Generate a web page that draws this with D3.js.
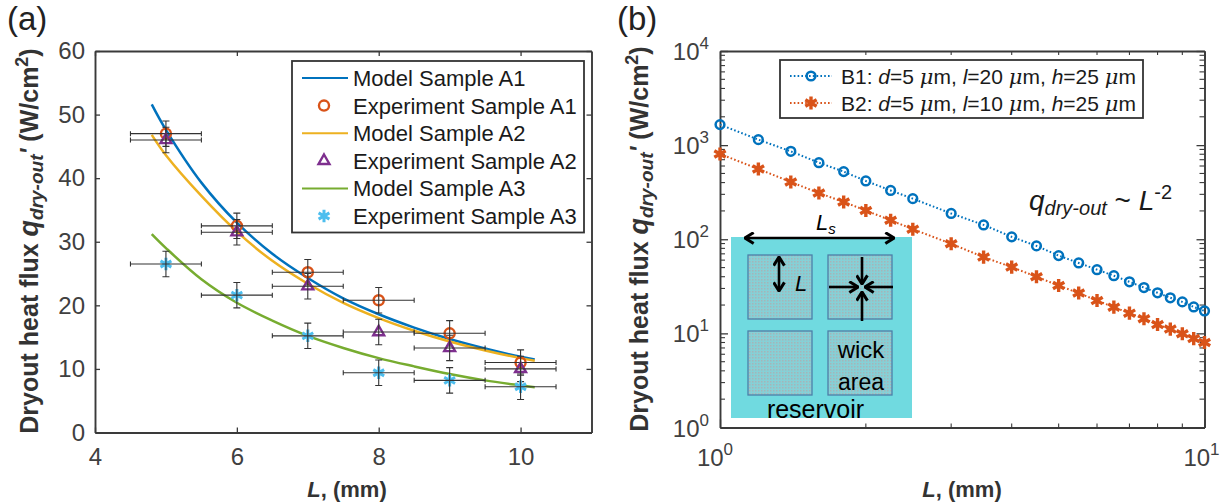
<!DOCTYPE html>
<html>
<head>
<meta charset="utf-8">
<script src="https://cdn.jsdelivr.net/npm/d3@7"></script>
<style>
body { margin: 0; background: #fff; }
svg { display: block; }
text { font-family: "Liberation Sans", Arial, sans-serif; }
.tick text { fill: #404040; }
</style>
</head>
<body>
<svg id="chart" width="1226" height="504"></svg>
<script>
// panel (a)
var modelL = [4.8, 5, 5.5, 6, 6.5, 7, 7.5, 8, 8.5, 9, 9.5, 10, 10.2]
var modelA1 = [51.6, 47.6, 39.3, 33, 28.1, 24.3, 21.1, 18.6, 16.5, 14.7, 13.2, 11.9, 11.5]
var modelA2 = [46.8, 43.6, 37.2, 31.6, 27, 23.4, 20.4, 18, 16, 14.3, 12.9, 11.7, 11.3]
var modelA3 = [31.2, 29, 24.1, 20.4, 17.6, 15.2, 13.3, 11.7, 10.4, 9.2, 8.2, 7.4, 7.1]

var expL = [5, 6, 7, 8, 9, 10]
var expA1 = [47, 32.5, 25.2, 20.8, 15.6, 11]
var expA2 = [46, 31.5, 23, 15.8, 13.3, 10]
var expA3 = [26.5, 21.6, 15.2, 9.4, 8.2, 7.2]
var errL = 0.5
var errQ = 2

var xTicksA = [4, 6, 8, 10]
var yTicksA = [0, 10, 20, 30, 40, 50, 60]

// panel (b)
var logL = [1, 1.2, 1.4, 1.6, 1.8, 2, 2.25, 2.5, 3, 3.5, 4, 4.5, 5, 5.5, 6, 6.5, 7, 7.5, 8, 8.5, 9, 9.5, 10]
var seriesB1 = [1652, 1144, 859, 651, 523, 416, 330, 270, 188, 142, 106, 85, 67, 56, 47.5, 41, 35.3, 30.7, 27, 23.9, 21.6, 19.1, 17.3]
var seriesB2 = [806, 558, 406, 310, 249, 202, 159, 128, 89.6, 64.6, 50.6, 40, 32.2, 26.8, 22.3, 19, 16.4, 14.3, 12.4, 11.1, 9.9, 8.8, 8]

var yDecades = [1, 10, 100, 1000, 10000]
var xMinor = [2, 3, 4, 5, 6, 7, 8, 9]

var blue = "#0072bd", orange = "#d95319", yellow = "#edb120", purple = "#7e2f8e", green = "#77ac30", sky = "#4dbeee"
var axisColor = "#3a3a3a"

var svg = d3.select("#chart")

var dimsA = { left: 95, right: 591.5, top: 51, bottom: 432.5 }
var dimsB = { left: 720, right: 1204.5, top: 51, bottom: 427.5 }

var xA = d3.scaleLinear().domain([4, 11]).range([dimsA.left, dimsA.right])
var yA = d3.scaleLinear().domain([0, 60]).range([dimsA.bottom, dimsA.top])
var xB = d3.scaleLog().domain([1, 10]).range([dimsB.left, dimsB.right])
var yB = d3.scaleLog().domain([1, 10000]).range([dimsB.bottom, dimsB.top])

// adds text made of pieces: {t, i (italic), b (bold), dy, size}
function rich(sel, pieces) {
    pieces.forEach(function (p) {
        var s = sel.append("tspan").text(p.t)
        if (p.i) s.attr("font-style", "italic")
        if (p.b) s.attr("font-weight", "bold")
        if (p.dy) s.attr("dy", p.dy)
        if (p.size) s.attr("font-size", p.size)
        if (p.serif) s.style("font-family", "'DejaVu Serif', serif")
    })
    return sel
}

function styleAxis(g) {
    g.select(".domain").attr("stroke", axisColor).attr("stroke-width", 1.9)
    g.selectAll(".tick line").attr("stroke", axisColor).attr("stroke-width", 1.3)
}

function frame(d, xScale, yScale, xMajor, yMajor, len, fmtX, fmtY) {
    var bottom = svg.append("g").attr("transform", "translate(0," + d.bottom + ")")
        .call(d3.axisBottom(xScale).tickValues(xMajor).tickSizeInner(-len).tickSizeOuter(0).tickPadding(15).tickFormat(fmtX))
    var top = svg.append("g").attr("transform", "translate(0," + d.top + ")")
        .call(d3.axisTop(xScale).tickValues(xMajor).tickSizeInner(-len).tickSizeOuter(0).tickFormat(""))
    var left = svg.append("g").attr("transform", "translate(" + d.left + ",0)")
        .call(d3.axisLeft(yScale).tickValues(yMajor).tickSizeInner(-len).tickSizeOuter(0).tickPadding(10).tickFormat(fmtY))
    var right = svg.append("g").attr("transform", "translate(" + d.right + ",0)")
        .call(d3.axisRight(yScale).tickValues(yMajor).tickSizeInner(-len).tickSizeOuter(0).tickFormat(""))
    ;[bottom, top, left, right].forEach(styleAxis)
    svg.selectAll("g.tick text").attr("font-size", 24).attr("font-family", "Liberation Sans, sans-serif")
}

/* ---------- panel a ---------- */
frame(dimsA, xA, yA, xTicksA, yTicksA, 5, d3.format("d"), d3.format("d"))

var lineA = d3.line().x(d => xA(d[0])).y(d => yA(d[1])).curve(d3.curveCatmullRom)
var models = [[modelA1, blue], [modelA2, yellow], [modelA3, green]]
models.forEach(function (m) {
    svg.append("path")
        .datum(modelL.map((l, i) => [l, m[0][i]]))
        .attr("d", lineA)
        .attr("fill", "none")
        .attr("stroke", m[1])
        .attr("stroke-width", 2.5)
})

var circleMark = d3.symbol().type(d3.symbolCircle).size(80)
var triMark = d3.symbol().type(d3.symbolTriangle2).size(85)
var starMark = d3.symbol().type(d3.symbolAsterisk).size(110)

var experiments = [
    { v: expA1, color: orange, mark: circleMark, sw: 2.4 },
    { v: expA2, color: purple, mark: triMark, sw: 2.4 },
    { v: expA3, color: sky, mark: starMark, sw: 3 }
]

experiments.forEach(function (e) {
    var pts = expL.map((l, i) => [l, e.v[i]])
    svg.append("g").selectAll("path")
        .data(pts)
        .enter()
        .append("path")
        .attr("transform", d => "translate(" + xA(d[0]) + "," + yA(d[1]) + ")")
        .attr("d", e.mark)
        .attr("fill", "none")
        .attr("stroke", e.color)
        .attr("stroke-width", e.sw)

    var bars = svg.append("g").attr("stroke", "#333").attr("stroke-width", 1.1).attr("fill", "none")
        .selectAll("path").data(pts).enter().append("path")
    bars.attr("d", function (d) {
        var cx = xA(d[0]), cy = yA(d[1])
        var x0 = xA(d[0] - errL), x1 = xA(d[0] + errL), y0 = yA(d[1] - errQ), y1 = yA(d[1] + errQ)
        return "M" + x0 + "," + cy + "H" + x1
            + "M" + x0 + "," + (cy - 2.5) + "V" + (cy + 2.5)
            + "M" + x1 + "," + (cy - 2.5) + "V" + (cy + 2.5)
            + "M" + cx + "," + y0 + "V" + y1
            + "M" + (cx - 3.5) + "," + y0 + "H" + (cx + 3.5)
            + "M" + (cx - 3.5) + "," + y1 + "H" + (cx + 3.5)
    })
})

// legend a
var legendA = [
    { label: "Model Sample A1", color: blue },
    { label: "Experiment Sample A1", color: orange, mark: circleMark, sw: 2.4 },
    { label: "Model Sample A2", color: yellow },
    { label: "Experiment Sample A2", color: purple, mark: triMark, sw: 2.4 },
    { label: "Model Sample A3", color: green },
    { label: "Experiment Sample A3", color: sky, mark: starMark, sw: 3 }
]
var legA = svg.append("g").attr("transform", "translate(292,61)")
legA.append("rect").attr("width", 292).attr("height", 171.5)
    .attr("fill", "#fff").attr("stroke", "#333").attr("stroke-width", 1.8)
var rowA = legA.selectAll(".row").data(legendA).enter().append("g")
    .attr("transform", (d, i) => "translate(0," + (17 + i * 27.6) + ")")
rowA.filter(d => !d.mark).append("line")
    .attr("x1", 10).attr("x2", 56)
    .attr("stroke", d => d.color).attr("stroke-width", 2)
rowA.filter(d => d.mark).append("path")
    .attr("transform", "translate(32,0)")
    .attr("d", d => d.mark())
    .attr("fill", "none").attr("stroke", d => d.color).attr("stroke-width", d => d.sw)
rowA.append("text").attr("x", 61).attr("y", 8).attr("font-size", 22).attr("fill", "#1a1a1a").text(d => d.label)

/* ---------- panel b ---------- */
frame(dimsB, xB, yB, [1, 10], yDecades, 8, () => "", () => "")

// minor ticks
var minorY = []
yDecades.slice(0, 4).forEach(function (dec) { xMinor.forEach(m => minorY.push(dec * m)) })
;[[dimsB.left, 5], [dimsB.right, -5]].forEach(function (side) {
    svg.append("g").selectAll("line").data(minorY).enter().append("line")
        .attr("x1", side[0]).attr("x2", side[0] + side[1])
        .attr("y1", d => yB(d)).attr("y2", d => yB(d))
        .attr("stroke", axisColor).attr("stroke-width", 1.1)
})
;[[dimsB.bottom, -4], [dimsB.top, 4]].forEach(function (side) {
    svg.append("g").selectAll("line").data(xMinor).enter().append("line")
        .attr("y1", side[0]).attr("y2", side[0] + side[1])
        .attr("x1", d => xB(d)).attr("x2", d => xB(d))
        .attr("stroke", axisColor).attr("stroke-width", 1.1)
})

// decade labels
svg.append("g").selectAll("text").data(yDecades).enter().append("text")
    .attr("x", dimsB.left - 11)
    .attr("y", d => yB(d) + 9)
    .attr("text-anchor", "end")
    .attr("font-size", 24)
    .attr("fill", "#404040")
    .each(function (d) {
        rich(d3.select(this), [{ t: "10" }, { t: Math.round(Math.log10(d)), dy: -11, size: 17 }])
    })
svg.append("g").selectAll("text").data([1, 10]).enter().append("text")
    .attr("x", d => xB(d) + (d == 1 ? -5 : -3))
    .attr("y", dimsB.bottom + 38)
    .attr("text-anchor", "middle")
    .attr("font-size", 24)
    .attr("fill", "#404040")
    .each(function (d) {
        rich(d3.select(this), [{ t: "10" }, { t: Math.round(Math.log10(d)), dy: -11, size: 17 }])
    })

// inset, local coordinates inside the reservoir box
var insetSquares = [[17, 18], [97, 18], [17, 94], [97, 94]]
var defs = svg.append("defs")
var hatch = defs.append("pattern").attr("id", "wick").attr("width", 3).attr("height", 3)
    .attr("patternUnits", "userSpaceOnUse")
hatch.append("rect").attr("width", 3).attr("height", 3).attr("fill", "#86d0d6")
hatch.append("rect").attr("width", 1.5).attr("height", 1.5).attr("fill", "#a6b4b8")

defs.append("marker").attr("id", "head").attr("viewBox", "0 0 12 12")
    .attr("refX", 11).attr("refY", 6)
    .attr("markerWidth", 13).attr("markerHeight", 13)
    .attr("markerUnits", "userSpaceOnUse")
    .attr("orient", "auto-start-reverse")
    .append("path").attr("d", "M3,1 L11,6 L3,11").attr("fill", "none").attr("stroke", "#000").attr("stroke-width", 2.8)

var inset = svg.append("g").attr("transform", "translate(731,237)")
inset.append("rect").attr("width", 181).attr("height", 181).attr("fill", "#70dae0")
inset.selectAll(".sq").data(insetSquares).enter().append("rect")
    .attr("x", d => d[0]).attr("y", d => d[1])
    .attr("width", 64).attr("height", 64)
    .attr("fill", "url(#wick)")
    .attr("stroke", "#4d7fa8").attr("stroke-width", 1.3)

var arrows = [
    [14, 1, 163, 1, true],
    [48, 20, 48, 54, true],
    [98, 50, 127, 50, false],
    [162, 50, 134, 50, false],
    [131, 20, 131, 47, false],
    [131, 84, 131, 55, false]
]
inset.selectAll(".arrow").data(arrows).enter().append("line")
    .attr("x1", d => d[0]).attr("y1", d => d[1])
    .attr("x2", d => d[2]).attr("y2", d => d[3])
    .attr("stroke", "#000").attr("stroke-width", 2.6)
    .attr("marker-end", "url(#head)")
    .attr("marker-start", d => d[4] ? "url(#head)" : null)

inset.append("text").attr("x", 85).attr("y", -7).attr("font-size", 22).attr("fill", "#000")
    .call(rich, [{ t: "L", i: true }, { t: "s", i: true, dy: 4, size: 15 }])
inset.append("text").attr("x", 64).attr("y", 54).attr("font-size", 22).attr("font-style", "italic").attr("fill", "#000").text("L")
inset.append("text").attr("x", 130).attr("y", 121).attr("text-anchor", "middle").attr("font-size", 24).attr("fill", "#000").text("wick")
inset.append("text").attr("x", 130).attr("y", 153).attr("text-anchor", "middle").attr("font-size", 23).attr("fill", "#000").text("area")
inset.append("text").attr("x", 84.5).attr("y", 181).attr("text-anchor", "middle").attr("font-size", 25).attr("fill", "#000").text("reservoir")

// series b
var lineB = d3.line().x(d => xB(d[0])).y(d => yB(d[1]))
var seriesB = [
    { v: seriesB1, color: blue, mark: d3.symbol().type(d3.symbolCircle).size(60), sw: 2.5, fill: "none" },
    { v: seriesB2, color: orange, mark: d3.symbol().type(d3.symbolAsterisk).size(120), sw: 3.4, fill: "none" }
]
seriesB.forEach(function (s) {
    var pts = logL.map((l, i) => [l, s.v[i]])
    svg.append("path").datum(pts).attr("d", lineB)
        .attr("fill", "none").attr("stroke", s.color)
        .attr("stroke-width", 2).attr("stroke-dasharray", "1.6 2.2")
    svg.append("g").selectAll("path").data(pts).enter().append("path")
        .attr("transform", d => "translate(" + xB(d[0]) + "," + yB(d[1]) + ")")
        .attr("d", s.mark)
        .attr("fill", s.fill).attr("stroke", s.color).attr("stroke-width", s.sw)
})

// legend b
var legB = svg.append("g").attr("transform", "translate(780,60)")
legB.append("rect").attr("width", 363).attr("height", 58)
    .attr("fill", "#fff").attr("stroke", "#333").attr("stroke-width", 1.8)
var legendB = [
    { name: "B1: ", l: "20", s: seriesB[0] },
    { name: "B2: ", l: "10", s: seriesB[1] }
]
var rowB = legB.selectAll(".row").data(legendB).enter().append("g")
    .attr("transform", (d, i) => "translate(0," + (16 + i * 27) + ")")
rowB.append("line").attr("x1", 10).attr("x2", 52)
    .attr("stroke", d => d.s.color).attr("stroke-width", 2).attr("stroke-dasharray", "1.6 2.2")
rowB.append("path").attr("transform", "translate(31,0)").attr("d", d => d.s.mark())
    .attr("fill", "none").attr("stroke", d => d.s.color).attr("stroke-width", d => d.s.sw)
rowB.append("text").attr("x", 61).attr("y", 8).attr("font-size", 21).attr("fill", "#1a1a1a")
    .each(function (d) {
        rich(d3.select(this), [
            { t: d.name }, { t: "d", i: true }, { t: "=5 " }, { t: "\u03bc", i: true, serif: true }, { t: "m, " },
            { t: "l", i: true }, { t: "=" + d.l + " " }, { t: "\u03bc", i: true, serif: true }, { t: "m, " },
            { t: "h", i: true }, { t: "=25 " }, { t: "\u03bc", i: true, serif: true }, { t: "m" }
        ])
    })

// scaling note
svg.append("text").attr("x", 1029).attr("y", 210).attr("font-size", 28).attr("fill", "#1a1a1a")
    .call(rich, [
        { t: "q", i: true },
        { t: "dry-out", i: true, dy: 5, size: 20 },
        { t: " ~ ", dy: -5 },
        { t: "L", i: true },
        { t: "-2", dy: -11, size: 20 }
    ])

/* ---------- shared labels ---------- */
function yLabel(x, cy) {
    svg.append("text")
        .attr("transform", "translate(" + x + "," + cy + ") rotate(-90)")
        .attr("text-anchor", "middle")
        .attr("font-size", 25)
        .attr("font-weight", "bold")
        .attr("fill", "#333")
        .call(rich, [
            { t: "Dryout heat flux  " },
            { t: "q", i: true, size: 27 },
            { t: "dry-out", i: true, dy: 5, size: 19 },
            { t: "' ", i: true, dy: -5 },
            { t: "(W/cm" },
            { t: "2", dy: -10, size: 18 },
            { t: ")", dy: 10 }
        ])
}
yLabel(38, 241)
yLabel(648, 239)

function xLabel(cx) {
    svg.append("text").attr("x", cx).attr("y", 497)
        .attr("text-anchor", "middle").attr("font-size", 22).attr("font-weight", "bold").attr("fill", "#333")
        .call(rich, [{ t: "L", i: true }, { t: ", (mm)" }])
}
xLabel(347)
xLabel(962)

svg.append("text").attr("x", 7).attr("y", 30).attr("font-size", 33).attr("fill", "#222").text("(a)")
svg.append("text").attr("x", 617).attr("y", 30).attr("font-size", 33).attr("fill", "#222").text("(b)")
</script>
</body>
</html>
